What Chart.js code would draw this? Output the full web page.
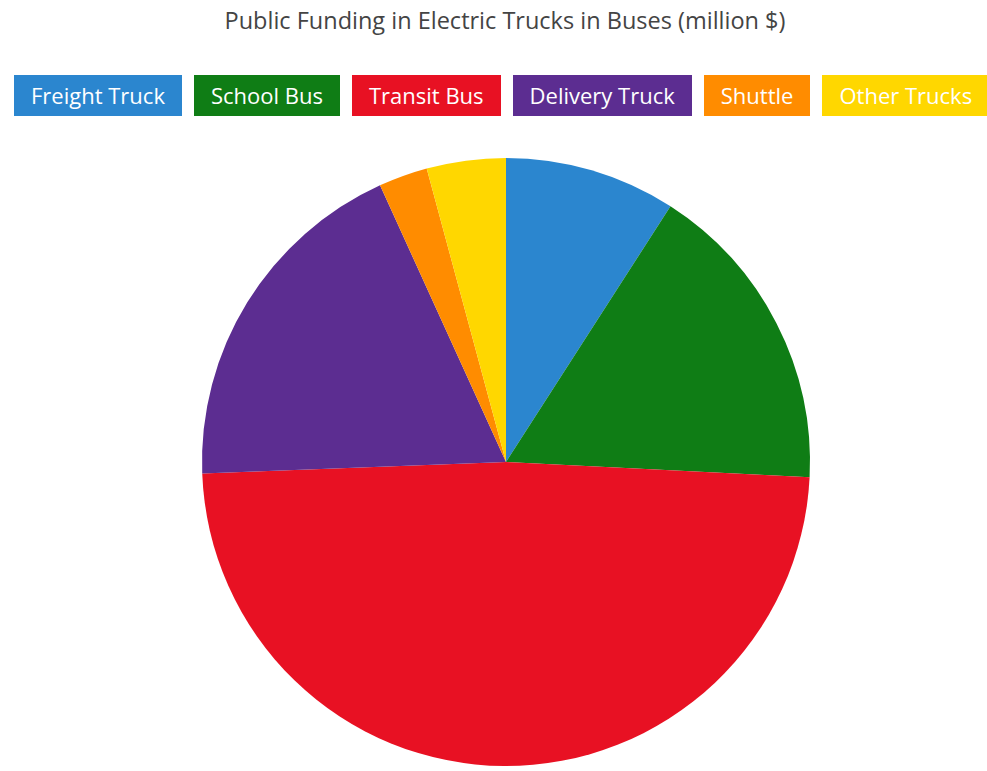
<!DOCTYPE html>
<html>
<head>
<meta charset="utf-8">
<script src="https://cdn.jsdelivr.net/npm/chart.js@4/dist/chart.umd.min.js"></script>
<style>
    html, body { margin: 0; padding: 0; background: #fff; overflow: hidden; }
    body { width: 987px; height: 771px; position: relative; font-family: 'Open Sans', sans-serif; }
    #title {
        position: absolute; top: 3px; left: 0; width: 1010px;
        text-align: center; font-size: 23.5px; color: #444; line-height: 34px;
    }
    #legend {
        position: absolute; top: 75px; left: 14px;
        display: flex; flex-wrap: nowrap; gap: 12px; white-space: nowrap;
    }
    #legend div {
        height: 41px; line-height: 40px; padding: 0 17px;
        color: #fff; font-size: 22px; cursor: pointer;
    }
    #chartBox { position: absolute; top: 151px; left: 0; width: 987px; height: 622px; }
</style>
</head>
<body>
<div id="title">Public Funding in Electric Trucks in Buses (million $)</div>
<div id="legend"></div>
<div id="chartBox"><canvas id="pieChart"></canvas></div>
<script>
const labels = ['Freight Truck', 'School Bus', 'Transit Bus', 'Delivery Truck', 'Shuttle', 'Other Trucks'];
const funding = [9.1, 16.7, 48.6, 18.8, 2.6, 4.2];
const colors = ['#2B86CF', '#0F7D15', '#E81123', '#5C2D91', '#FF8C00', '#FFD700'];

// html legend built from the chart's own legend items
const htmlLegend = {
    id: 'htmlLegend',
    afterUpdate(chart) {
        const box = document.getElementById('legend');
        box.innerHTML = '';
        chart.options.plugins.legend.labels.generateLabels(chart).forEach(item => {
            const el = document.createElement('div');
            el.textContent = item.text;
            el.style.background = item.fillStyle;
            el.style.opacity = item.hidden ? 0.4 : 1;
            el.onclick = () => {
                chart.toggleDataVisibility(item.index);
                chart.update();
            };
            box.appendChild(el);
        });
    }
};

const ctxPie = document.getElementById('pieChart').getContext('2d');
const pieChart = new Chart(ctxPie, {
    type: 'pie',
    data: {
        labels: labels,
        datasets: [{
            data: funding,
            backgroundColor: colors,
            borderWidth: 0
        }]
    },
    options: {
        responsive: true,
        maintainAspectRatio: false,
        animation: false,
        layout: {
            padding: { top: 7, bottom: 7, left: 25 }
        },
        plugins: {
            legend: { display: false },
            title: { display: false }
        }
    },
    plugins: [htmlLegend]
});
</script>
</body>
</html>
